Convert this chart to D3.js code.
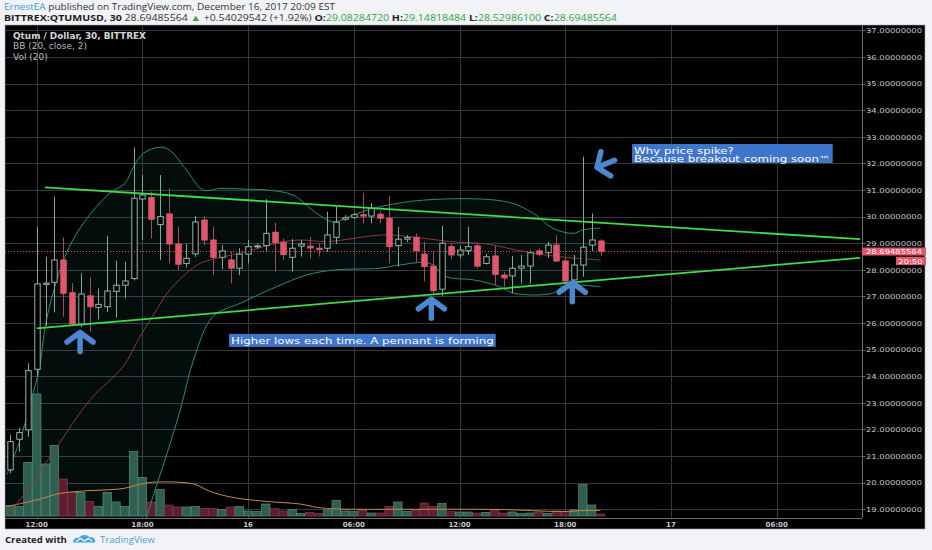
<!DOCTYPE html>
<html>
<head>
<meta charset="utf-8">
<script src="https://cdn.jsdelivr.net/npm/d3@7"></script>
<style>
  html, body { margin: 0; padding: 0; background: #f1f3f6; }
  svg { display: block; }
</style>
</head>
<body>
<svg id="chart" width="932" height="550"></svg>
<script>
// BITTREX:QTUMUSD 30m bars, Dec 15 10:30 -> Dec 16 20:00 (bar 0 = Dec 15 12:00)
const symbol = 'BITTREX:QTUMUSD';
const interval = '30';
const firstBar = -3;

const opens = [20.48, 21.63, 21.98, 24.26, 27.45, 27.53, 28.37, 27.14, 25.96, 27.02,
  26.59, 26.61, 27.19, 27.42, 27.67, 30.66, 30.72, 29.7, 30.1, 28.97,
  28.24, 28.6, 29.87, 29.12, 28.47, 28.37, 28.06, 28.59, 28.87, 28.91,
  29.41, 29.03, 28.47, 28.89, 28.89, 28.81, 28.81, 29.22, 29.9, 29.97,
  30.07, 30.02, 30.09, 29.94, 28.91, 29.15, 29.22, 28.59, 28.14, 27.27,
  28.87, 28.56, 28.72, 28.9, 28.24, 28.52, 27.8, 27.77, 28.06, 28.14,
  28.71, 28.64, 28.93, 28.33, 27.62, 28.18, 28.93, 29.0828472];
const highs = [21.79, 22.05, 24.49, 29.62, 28.49, 30.75, 29.22, 27.5, 27.87, 27.72,
  27.3, 29.27, 28.34, 28.3, 32.6, 31.56, 30.94, 31.56, 31.06, 29.62,
  28.97, 30.03, 30.02, 29.62, 28.93, 28.68, 28.81, 29.12, 28.97, 30.65,
  29.77, 29.18, 29.15, 29.12, 29.24, 29.0, 30.18, 30.37, 30.05, 30.15,
  30.88, 30.5, 30.2, 30.77, 29.62, 29.3, 29.37, 29.06, 28.68, 29.65,
  29.0, 28.9, 29.62, 29.0, 28.6, 28.93, 27.93, 28.52, 28.56, 28.74,
  28.8, 29.05, 29.3, 28.49, 28.56, 32.25, 30.12, 29.14818484];
const lows = [20.35, 21.16, 21.72, 23.98, 25.9, 26.4, 26.24, 25.9, 25.85, 25.67,
  26.14, 26.42, 26.2, 26.93, 27.6, 29.12, 29.18, 28.37, 28.24, 27.99,
  28.09, 28.49, 28.93, 27.8, 28.02, 27.49, 27.8, 28.24, 28.8, 28.68,
  27.93, 28.37, 27.93, 28.5, 28.43, 28.5, 28.68, 28.97, 29.85, 29.9,
  29.75, 29.75, 29.75, 28.24, 28.12, 29.05, 28.3, 27.56, 27.05, 27.02,
  28.4, 28.45, 28.56, 28.05, 28.2, 27.43, 27.36, 27.12, 27.49, 27.49,
  28.5, 28.45, 28.3, 27.49, 27.36, 27.74, 28.7, 28.529861];
const closes = [21.54, 21.88, 24.21, 27.47, 27.5, 28.37, 27.12, 25.96, 27.09, 26.61,
  26.7, 27.2, 27.42, 27.58, 30.69, 30.81, 29.9, 30.0, 28.97, 28.21,
  28.43, 29.8, 29.12, 28.47, 28.71, 28.06, 28.59, 28.87, 28.9, 29.37,
  29.02, 28.57, 28.81, 28.97, 28.82, 28.76, 29.31, 29.79, 29.96, 30.07,
  30.02, 30.31, 29.94, 28.87, 29.15, 29.21, 28.71, 28.12, 27.21, 29.0,
  28.56, 28.74, 28.87, 28.14, 28.49, 27.83, 27.7, 28.06, 28.14, 28.64,
  28.59, 28.93, 28.33, 27.58, 28.18, 28.85, 29.12, 28.69485564];
// volume, thousands
const volumes = [21, 19, 107, 244, 104, 141, 74, 47, 47, 29,
  19, 47, 28, 19, 129, 77, 28, 53, 22, 18,
  18, 19, 15, 15, 13, 18, 19, 10, 9, 24,
  15, 10, 13, 5, 7, 5, 12, 31, 10, 9,
  12, 6, 6, 19, 28, 9, 12, 26, 19, 25,
  9, 8, 8, 6, 7, 12, 6, 8, 5, 6,
  8, 5, 10, 9, 12, 63, 22, 4];

// BB (20, close, 2) and Vol MA (20): [bar, value]
const bbUpper = [[-3.4, 20.29], [-1.9, 21.6], [-0.76, 22.92], [0.37, 24.42], [1.1, 26.11],
  [3.2, 28.49], [5.3, 29.75], [8.3, 30.88], [10, 31.25], [11, 31.88], [12.1, 32.38],
  [14, 32.61], [15.1, 32.5], [17, 31.75], [18.9, 31.0], [20.8, 31.06], [24, 31.03],
  [26.1, 31.0], [29.1, 30.81], [31.8, 30.12], [33.7, 29.81], [35.9, 30.06], [38.2, 30.31],
  [43.9, 30.62], [53.3, 30.56], [56.4, 30.12], [58.6, 29.56], [60.9, 29.37], [62, 29.5],
  [64, 29.57]];
const bbBasis = [[-3.4, 18.8], [-2.65, 19.05], [-1.1, 19.72], [2.3, 21.35], [6.05, 23.11],
  [9.8, 24.36], [11.7, 25.48], [13.6, 26.49], [15.1, 27.24], [18.2, 28.18], [19.7, 28.37],
  [23.8, 28.68], [27.2, 29.0], [29.9, 29.12], [32.9, 29.06], [39.3, 29.31], [43.1, 29.22],
  [46.9, 29.06], [51.1, 28.97], [54.5, 28.74], [58.6, 28.52], [64, 28.37]];
const bbLower = [[-3.4, 14.5], [6, 14.0], [11, 16.8], [12.5, 18.72], [14.8, 21.1],
  [16.3, 22.73], [17.8, 24.61], [20, 26.24], [23.1, 26.74], [27.2, 27.36], [30.6, 27.8],
  [33.7, 27.99], [39, 28.06], [41.2, 28.18], [44.6, 28.24], [46.5, 27.74], [49.6, 27.62],
  [52.6, 27.36], [54.1, 27.12], [58.6, 27.12], [59.8, 27.39], [64, 27.36]];
const volMa = [[-3.4, 19], [0, 32], [2.6, 45], [5.3, 50], [9.8, 55], [12.1, 65], [13.6, 68],
  [17.8, 64], [19.7, 49], [22.3, 37], [26.1, 29], [29.9, 24], [31.9, 17], [34.4, 14],
  [43, 13.5], [52.6, 13], [59.6, 9], [62.2, 11], [64, 11]];

const priceTicks = [19, 20, 21, 22, 23, 24, 25, 26, 27, 28, 29, 30, 31, 32, 33, 34, 35, 36, 37];
const timeTicks = [0, 12, 24, 36, 48, 60, 72, 84];
const timeLabels = ['12:00', '18:00', '16', '06:00', '12:00', '18:00', '17', '06:00'];

const change = 0.54029542;
const changePct = 1.92;
const countdown = '20:50';

// drawings: trend lines, arrows [bar, price, angle], notes
const trendLines = [[[0.94, 31.1], [93.45, 29.15]], [[0, 25.8], [93.45, 28.45]]];
const arrows = [[4.92, 25.64, 0], [44.8, 26.89, 0], [60.8, 27.51, 0], [63.6, 31.85, -112]];
const notes = [
  { bar: 21.95, price: 25.59, lines: ['Higher lows each time. A pennant is forming'] },
  { bar: 67.7, price: 32.73, lines: ['Why price spike?', 'Because breakout coming soon\u2122'] }
];

const KY = 0.8; // snapshot text is squashed vertically
const pane = { left: 5, top: 25, right: 862, bottom: 518, outerRight: 925, outerBottom: 529 };

const x = d3.scaleLinear().domain([0, 64]).range([36.7, 600.5]);
const y = d3.scaleLinear().domain([19, 37]).range([509.2, 30.4]);
const vy = d3.scaleLinear().domain([0, 244]).range([516, 394]);

const bars = opens.map((o, k) => ({
  i: firstBar + k, o, h: highs[k], l: lows[k], c: closes[k], v: volumes[k]
}));
const last = bars[bars.length - 1];

const svg = d3.select('#chart');

function label(g, px, py, str, size, opt = {}) {
  const t = g.append('text')
    .attr('transform', `translate(${px},${py}) scale(1,${opt.ky || KY})`)
    .attr('font-family', opt.family || 'DejaVu Sans')
    .attr('font-size', size)
    .attr('fill', opt.fill || '#c3c8cb');
  if (opt.weight) t.attr('font-weight', opt.weight);
  if (opt.anchor) t.attr('text-anchor', opt.anchor);
  if (str !== null) t.text(str);
  return t;
}

// shrink or grow a text's font so that it spans the given width
function fitWidth(t, size, width) {
  const w = t.node().getComputedTextLength();
  if (w > 0) t.attr('font-size', size * width / w);
}

// header
const header = svg.append('g');
const h1 = label(header, 4, 9.5, null, 10, { family: 'Open Sans', fill: '#333', ky: 0.86 });
h1.append('tspan').attr('fill', '#3d9be3').text('ErnestEA');
h1.append('tspan').text(' published on TradingView.com, December 16, 2017 20:09 EST');
fitWidth(h1, 10, 331);

const h2 = label(header, 4, 21.3, null, 10, { family: 'Open Sans', fill: '#333', ky: 0.86 });
h2.append('tspan').attr('font-weight', 'bold').attr('fill', '#1e1e1e').text(`${symbol}, ${interval}`);
h2.append('tspan').text(` ${last.c.toFixed(8)} `);
h2.append('tspan').attr('fill', '#2fa443').text('\u25B2');
h2.append('tspan').text(` +${change.toFixed(8)} (+${changePct.toFixed(2)}%) `);
[['O', last.o], ['H', last.h], ['L', last.l], ['C', last.c]].forEach(([k, v], j) => {
  h2.append('tspan').attr('font-weight', 'bold').attr('fill', '#1e1e1e').text(k + ':');
  h2.append('tspan').attr('fill', '#2fa443').text(v.toFixed(8) + (j < 3 ? ' ' : ''));
});
fitWidth(h2, 10, 612);

// chart background
svg.append('rect')
  .attr('x', pane.left).attr('y', pane.top)
  .attr('width', pane.outerRight - pane.left).attr('height', pane.outerBottom - pane.top)
  .attr('fill', '#000').attr('stroke', '#a9aeb3').attr('stroke-width', 0.6);

svg.append('clipPath').attr('id', 'plot')
  .append('rect')
  .attr('x', pane.left).attr('y', pane.top)
  .attr('width', pane.right - pane.left).attr('height', pane.bottom - pane.top);

const grid = svg.append('g').attr('stroke', '#353a3d').attr('stroke-width', 1);
grid.selectAll('line.h').data(priceTicks).join('line').attr('class', 'h')
  .attr('x1', pane.left).attr('x2', pane.right)
  .attr('y1', d => Math.round(y(d)) + 0.5).attr('y2', d => Math.round(y(d)) + 0.5);
grid.selectAll('line.v').data(timeTicks).join('line').attr('class', 'v')
  .attr('x1', d => Math.round(x(d)) + 0.5).attr('x2', d => Math.round(x(d)) + 0.5)
  .attr('y1', pane.top).attr('y2', pane.bottom);

const plot = svg.append('g').attr('clip-path', 'url(#plot)');

const bandLine = d3.line().x(d => x(d[0])).y(d => y(d[1])).curve(d3.curveCatmullRom);

// BB fill
plot.append('path')
  .attr('d', bandLine(bbUpper) + 'L' + bandLine(bbLower.slice().reverse()).slice(1) + 'Z')
  .attr('fill', 'rgba(38,150,130,0.09)');

// volume
const vol = plot.append('g');
vol.selectAll('rect').data(bars).join('rect')
  .attr('x', d => x(d.i) - 4.2).attr('width', 8.4)
  .attr('y', d => vy(d.v)).attr('height', d => vy(0) - vy(d.v))
  .attr('fill', d => d.c >= d.o ? '#2f5f4f' : '#5c1f30')
  .attr('stroke', d => d.c >= d.o ? '#558d7c' : '#8a3a4e')
  .attr('stroke-width', 0.7);

plot.append('path')
  .attr('d', d3.line().x(d => x(d[0])).y(d => vy(d[1])).curve(d3.curveCatmullRom)(volMa))
  .attr('fill', 'none').attr('stroke', '#c98b45').attr('stroke-width', 1);

// BB lines
plot.append('path').attr('d', bandLine(bbUpper))
  .attr('fill', 'none').attr('stroke', '#2a8a77').attr('stroke-width', 1);
plot.append('path').attr('d', bandLine(bbLower))
  .attr('fill', 'none').attr('stroke', '#2a8a77').attr('stroke-width', 1);
plot.append('path').attr('d', bandLine(bbBasis))
  .attr('fill', 'none').attr('stroke', '#8e3545').attr('stroke-width', 1);

// candles
const candle = plot.append('g').selectAll('g').data(bars).join('g');
candle.append('line')
  .attr('x1', d => Math.round(x(d.i)) + 0.5).attr('x2', d => Math.round(x(d.i)) + 0.5)
  .attr('y1', d => y(d.h)).attr('y2', d => y(d.l))
  .attr('stroke', d => d.c >= d.o ? '#7eab9c' : '#a04d5d');
candle.append('rect')
  .attr('x', d => Math.round(x(d.i)) - 2.2).attr('width', 5.4)
  .attr('y', d => y(Math.max(d.o, d.c)))
  .attr('height', d => Math.max(1, Math.abs(y(d.o) - y(d.c))))
  .attr('fill', d => d.c >= d.o ? '#000' : '#e0566b')
  .attr('stroke', d => d.c >= d.o ? '#8fb8aa' : '#e0566b')
  .attr('stroke-width', 1);

// trend lines
plot.selectAll('line.trend').data(trendLines).join('line').attr('class', 'trend')
  .attr('x1', d => x(d[0][0])).attr('y1', d => y(d[0][1]))
  .attr('x2', d => x(d[1][0])).attr('y2', d => y(d[1][1]))
  .attr('stroke', '#3fdc46').attr('stroke-width', 1.8);

// last price line
plot.append('line')
  .attr('x1', pane.left).attr('x2', pane.right)
  .attr('y1', Math.round(y(last.c)) + 0.5).attr('y2', Math.round(y(last.c)) + 0.5)
  .attr('stroke', '#e0505f').attr('stroke-dasharray', '1,2');

// arrows
plot.selectAll('path.arrow').data(arrows).join('path').attr('class', 'arrow')
  .attr('transform', d => `translate(${x(d[0])},${y(d[1])}) rotate(${d[2]})`)
  .attr('d', 'M-13,9.5L0,0L13,9.5M0,0L0,19')
  .attr('fill', 'none').attr('stroke', '#4c88cf').attr('stroke-width', 5.5)
  .attr('stroke-linecap', 'round').attr('stroke-linejoin', 'round');

// notes
const noteLine = 8.6;
notes.forEach(n => {
  const g = plot.append('g');
  const bx = x(n.bar), by = y(n.price);
  const box = g.append('rect').attr('fill', '#3e76cd');
  let w = 0;
  n.lines.forEach((s, k) => {
    const t = label(g, bx + 1, by + 9.8 + k * noteLine, s, 11.8, { fill: '#fff', ky: 0.68 });
    w = Math.max(w, t.node().getComputedTextLength());
  });
  box.attr('x', bx - 1).attr('y', by).attr('width', w + 4)
    .attr('height', 13 + noteLine * (n.lines.length - 1) - (n.lines.length > 1 ? 2.6 : 0));
});

// legend
const legend = svg.append('g');
label(legend, 13, 38.8, `Qtum / Dollar, ${interval}, BITTREX`, 8.9, { weight: 'bold', fill: '#d6d6d6', ky: 0.9 });
label(legend, 13, 49.3, 'BB (20, close, 2)', 9, { fill: '#b9b9b9', ky: 0.9 });
label(legend, 13, 59.8, 'Vol (20)', 9, { fill: '#b9b9b9', ky: 0.9 });

// price axis
const axisG = svg.append('g');
axisG.append('line')
  .attr('x1', pane.right + 0.5).attr('x2', pane.right + 0.5)
  .attr('y1', pane.top).attr('y2', pane.bottom)
  .attr('stroke', '#6b6f72');
axisG.selectAll('line.tick').data(priceTicks).join('line').attr('class', 'tick')
  .attr('x1', pane.right).attr('x2', pane.right + 3.5)
  .attr('y1', d => Math.round(y(d)) + 0.5).attr('y2', d => Math.round(y(d)) + 0.5)
  .attr('stroke', '#6b6f72');
priceTicks.forEach(p => label(axisG, 866, y(p) + 2.8, p.toFixed(8), 8.4, { fill: '#c4c9cc' }));

axisG.append('rect').attr('x', pane.right).attr('y', y(last.c) - 3.8)
  .attr('width', 64).attr('height', 8).attr('fill', '#e3566a');
label(axisG, 866, y(last.c) + 2.8, last.c.toFixed(8), 8.4, { fill: '#fff' });
axisG.append('rect').attr('x', 896).attr('y', y(last.c) + 5.4)
  .attr('width', 30).attr('height', 8.4).attr('fill', '#e3566a');
label(axisG, 922.5, y(last.c) + 12.2, countdown, 8.4, { fill: '#fff', anchor: 'end' });

// time axis
axisG.append('line')
  .attr('x1', pane.left).attr('x2', pane.right)
  .attr('y1', pane.bottom + 0.5).attr('y2', pane.bottom + 0.5)
  .attr('stroke', '#6b6f72');
timeTicks.forEach((t, k) => label(axisG, x(t), 526.6, timeLabels[k], 7, {
  weight: 'bold', fill: '#c4c9cc', anchor: 'middle', ky: 1
}));

// footer
const footer = svg.append('g');
label(footer, 5, 542.8, 'Created with', 9.6, { family: 'Open Sans', weight: 'bold', fill: '#222', ky: 0.9 });
footer.append('path')
  .attr('d', 'M73,542.5C73,539 76,537 79,538C81,534.5 87,534 89.5,537.5C92.5,536.5 96,539 95,542.5Z')
  .attr('fill', '#4aa3e0');
footer.append('path')
  .attr('d', 'M76,541.5L80.5,538.5L84.5,541L88.5,538.5L92,541')
  .attr('fill', 'none').attr('stroke', '#fff').attr('stroke-width', 1.1);
label(footer, 100, 542.8, 'TradingView', 9.6, { family: 'Open Sans', fill: '#4aa3e0', ky: 0.9 });
</script>
</body>
</html>
